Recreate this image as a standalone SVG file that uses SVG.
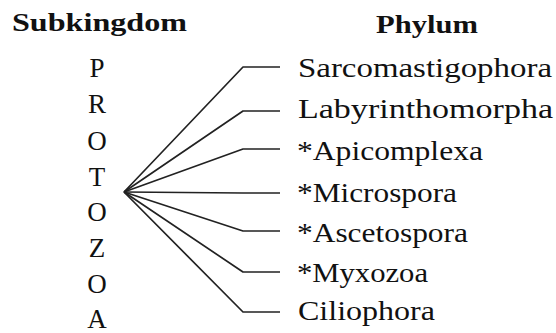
<svg xmlns="http://www.w3.org/2000/svg" width="556" height="333" viewBox="0 0 556 333">
<style>
text{font-family:'Liberation Serif','Times New Roman',serif;fill:#111}
.h{font-weight:bold;font-size:26px}
.l{font-size:27px;text-anchor:middle}
.p{font-size:27px}
.c path{fill:none;stroke:#222;stroke-width:1.7;stroke-linejoin:round}
</style>
<rect width="556" height="333" fill="#fff"/>
<g id="hdr-subkingdom"><text class="h" x="12" y="31" textLength="175" lengthAdjust="spacingAndGlyphs">Subkingdom</text></g>
<g id="hdr-phylum"><text class="h" x="376" y="33" textLength="102" lengthAdjust="spacingAndGlyphs">Phylum</text></g>
<g id="protozoa">
<text class="l" x="97" y="77">P</text>
<text class="l" x="97" y="113">R</text>
<text class="l" x="97" y="150">O</text>
<text class="l" x="97" y="186">T</text>
<text class="l" x="97" y="221">O</text>
<text class="l" x="97" y="257">Z</text>
<text class="l" x="97" y="293">O</text>
<text class="l" x="97" y="328">A</text>
</g>
<g class="c" id="connectors">
<path d="M124 192 L243 67 H280"/>
<path d="M124 192 L243 111 H280"/>
<path d="M124 192 L243 149 H280"/>
<path d="M124 192 L243 193 H280"/>
<path d="M124 192 L243 231 H280"/>
<path d="M124 192 L243 272 H280"/>
<path d="M124 192 L243 312 H280"/>
</g>
<g id="sarcomastigophora"><text class="p" x="298" y="77" textLength="254" lengthAdjust="spacingAndGlyphs">Sarcomastigophora</text></g>
<g id="labyrinthomorpha"><text class="p" x="298" y="118" textLength="255" lengthAdjust="spacingAndGlyphs">Labyrinthomorpha</text></g>
<g id="apicomplexa"><text class="p" x="297" y="160" textLength="186" lengthAdjust="spacingAndGlyphs">*Apicomplexa</text></g>
<g id="microspora"><text class="p" x="297" y="202" textLength="160" lengthAdjust="spacingAndGlyphs">*Microspora</text></g>
<g id="ascetospora"><text class="p" x="297" y="242" textLength="171" lengthAdjust="spacingAndGlyphs">*Ascetospora</text></g>
<g id="myxozoa"><text class="p" x="297" y="282" textLength="131" lengthAdjust="spacingAndGlyphs">*Myxozoa</text></g>
<g id="ciliophora"><text class="p" x="298" y="320" textLength="137" lengthAdjust="spacingAndGlyphs">Ciliophora</text></g>
</svg>
